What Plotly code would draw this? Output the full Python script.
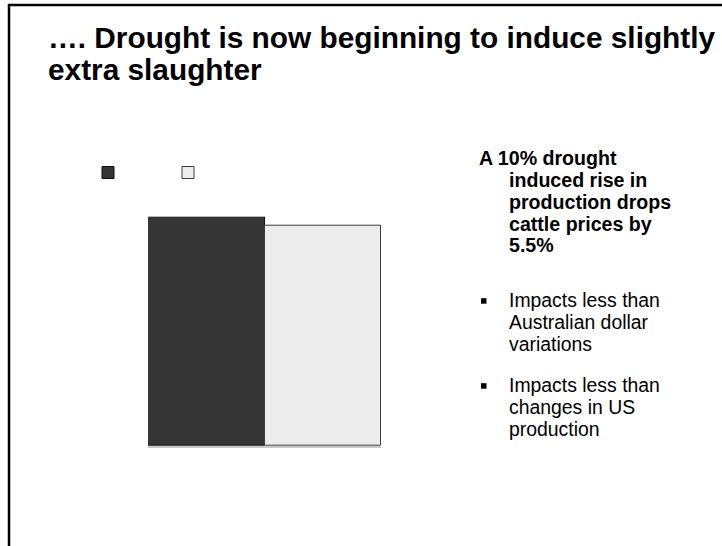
import plotly.graph_objects as go

W, H = 722, 546

# ---- data ----
categories = ["Cattle prices"]
legend_labels = ["", ""]
base_values = [100]
drought_values = [96]

title_lines = ["…. Drought is now beginning to induce slightly", "extra slaughter"]
key_point_lines = ["A 10% drought", "induced rise in", "production drops", "cattle prices by", "5.5%"]
bullet_1_lines = ["Impacts less than", "Australian dollar", "variations"]
bullet_2_lines = ["Impacts less than", "changes in US", "production"]


def px_x(x):
    return x / W


def px_y(y):
    return 1 - y / H


FONT = "Liberation Sans, Arial, Helvetica, sans-serif"

fig = go.Figure()
fig.add_trace(go.Bar(
    x=categories, y=base_values, name=legend_labels[0],
    marker=dict(color="#353535", line=dict(color="#111111", width=1)),
))
fig.add_trace(go.Bar(
    x=categories, y=drought_values, name=legend_labels[1],
    marker=dict(color="#ececec", line=dict(color="#3c3c3c", width=1)),
))

annotations = []


def add_line(text, x, baseline, size, bold):
    annotations.append(dict(
        text=text, x=px_x(x), y=px_y(baseline - 0.35 * size),
        xref="paper", yref="paper", xanchor="left", yanchor="middle",
        showarrow=False, borderpad=0, borderwidth=0,
        font=dict(family=FONT, size=size, color="#000000",
                  weight="bold" if bold else "normal"),
    ))


# title
for i, t in enumerate(title_lines):
    add_line(t, 48, 47.5 + 32 * i, 29.8, True)

# key point
for i, t in enumerate(key_point_lines):
    add_line(t, 479 if i == 0 else 508.5, 165 + 21.8 * i, 19.6, True)

# bullets
for i, t in enumerate(bullet_1_lines):
    add_line(t, 508.5, 306.7 + 21.8 * i, 19.4, False)
for i, t in enumerate(bullet_2_lines):
    add_line(t, 508.5, 391.7 + 21.8 * i, 19.4, False)

shapes = [
    # slide frame (left and top edges)
    dict(type="path", xref="paper", yref="paper",
         path=f"M {px_x(9)},{px_y(546)} L {px_x(9)},{px_y(5)} L {px_x(722)},{px_y(5)}",
         line=dict(color="#000000", width=2.5)),
]
for top in (298.2, 383.2):
    shapes.append(dict(type="rect", xref="paper", yref="paper",
                       x0=px_x(481), x1=px_x(486.5), y0=px_y(top), y1=px_y(top + 5.5),
                       fillcolor="#000000", line=dict(width=0)))

fig.update_layout(
    width=W, height=H,
    margin=dict(l=0, r=0, t=0, b=0),
    paper_bgcolor="#ffffff", plot_bgcolor="#ffffff",
    barmode="group", bargap=0, bargroupgap=0,
    showlegend=True,
    legend=dict(orientation="h", x=px_x(88), y=px_y(158), xanchor="left", yanchor="top",
                entrywidth=35, entrywidthmode="pixels", bgcolor="rgba(0,0,0,0)",
                font=dict(family=FONT, size=12), traceorder="normal"),
    xaxis=dict(domain=[px_x(148), px_x(381)], showticklabels=False, ticks="",
               showgrid=False, zeroline=False, showline=True, linecolor="#c8c8c8",
               linewidth=2, fixedrange=True),
    yaxis=dict(domain=[px_y(446), px_y(216.7)], range=[0, 100], visible=False,
               showgrid=False, zeroline=False, fixedrange=True),
    annotations=annotations,
    shapes=shapes,
    hovermode=False,
)

fig.write_html("out.html")
